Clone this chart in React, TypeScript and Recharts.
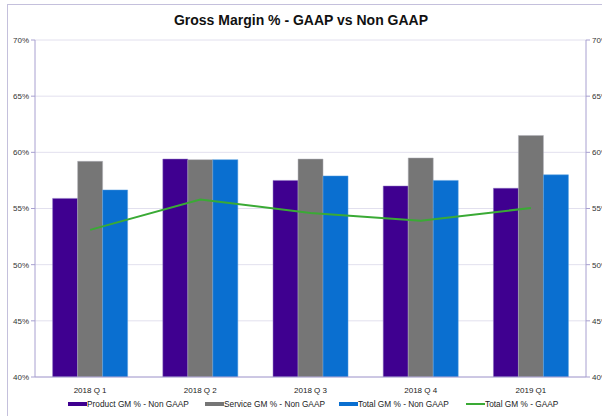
import React from 'react';
import { ComposedChart, Bar, Line, XAxis, YAxis, CartesianGrid, Legend } from 'recharts';

const categories = ['2018 Q 1', '2018 Q 2', '2018 Q 3', '2018 Q 4', '2019 Q1'];
const productNonGaap = [55.9, 59.4, 57.5, 57.0, 56.8];
const serviceNonGaap = [59.2, 59.35, 59.4, 59.5, 61.5];
const totalNonGaap = [56.65, 59.35, 57.9, 57.5, 58.0];
const totalGaap = [53.1, 55.8, 54.6, 53.9, 55.05];
const yTicks = [40, 45, 50, 55, 60, 65, 70];
const edgeTicks = [0, 1, 2, 3, 4, 5];
const seriesNames = ['Product GM % - Non GAAP', 'Service GM % - Non GAAP', 'Total GM % - Non GAAP', 'Total GM % - GAAP'];
const seriesColors = ['#3f0090', '#767676', '#0a6fd0', '#3aaa35'];

const data = categories.map((c, i) => ({
  name: c,
  product: productNonGaap[i],
  service: serviceNonGaap[i],
  total: totalNonGaap[i],
  gaap: totalGaap[i],
}));

const font = '"Liberation Sans", Arial, sans-serif';
const legendLefts = [68, 205, 339, 466];

const LegendContent = () => (
  <div style={{ position: 'relative', height: 12, width: 602, fontFamily: font, fontSize: 8.3, color: '#222' }}>
    {seriesNames.map((n, i) => (
      <div key={n} style={{ position: 'absolute', left: legendLefts[i], top: 0, display: 'flex', alignItems: 'center', whiteSpace: 'nowrap' }}>
        <span style={{ display: 'inline-block', width: 19, height: i === 3 ? 2 : 4, background: seriesColors[i] }} />
        <span>{n}</span>
      </div>
    ))}
  </div>
);

export default function App() {
  return (
    <div style={{ position: 'absolute', left: 0, top: 0, width: 602, height: 416, background: '#fff', overflow: 'hidden' }}>
      <div style={{ position: 'absolute', left: 7, top: 4, width: 610, height: 420, border: '1.5px solid #c4c0dc', boxSizing: 'border-box' }} />
      <div style={{ position: 'absolute', top: 12, left: 0, width: 602, textAlign: 'center', fontFamily: font, fontWeight: 'bold', fontSize: 14, color: '#111' }}>
        Gross Margin % - GAAP vs Non GAAP
      </div>
      <ComposedChart width={602} height={416} data={data} margin={{ top: 40, right: 0, left: 0, bottom: 9 }} barGap={0} barCategoryGap="16%">
        <CartesianGrid vertical={false} stroke="#e2e0ee" strokeWidth={1} yAxisId="l" />
        <XAxis dataKey="name" axisLine={{ stroke: '#a8a0d0' }} tickLine={false} tick={{ fontSize: 8, fill: '#222', fontFamily: font }} height={18} tickMargin={4} />
        <XAxis xAxisId="edge" type="number" domain={[0, 5]} ticks={edgeTicks} tick={false} axisLine={false} tickLine={{ stroke: '#a8a0d0' }} tickSize={4} height={0} />
        <YAxis yAxisId="l" orientation="left" type="number" domain={[40, 70]} ticks={yTicks} width={35} tickFormatter={(v: number) => `${v}%`} axisLine={{ stroke: '#a8a0d0' }} tickLine={{ stroke: '#a8a0d0' }} tickSize={4} tick={{ fontSize: 8, fill: '#333', fontFamily: font }} interval={0} allowDataOverflow />
        <YAxis yAxisId="r" orientation="right" type="number" domain={[40, 70]} ticks={yTicks} width={16} tickFormatter={(v: number) => `${v}%`} axisLine={{ stroke: '#a8a0d0' }} tickLine={{ stroke: '#a8a0d0' }} tickSize={4} tick={{ fontSize: 8, fill: '#333', fontFamily: font }} interval={0} allowDataOverflow />
        <Legend verticalAlign="bottom" content={<LegendContent />} wrapperStyle={{ bottom: 5, left: 0 }} />
        <Bar yAxisId="l" dataKey="product" name={seriesNames[0]} fill={seriesColors[0]} stroke="#8a70c0" strokeWidth={0.5} isAnimationActive={false} />
        <Bar yAxisId="l" dataKey="service" name={seriesNames[1]} fill={seriesColors[1]} stroke="#b0b0b8" strokeWidth={0.5} isAnimationActive={false} />
        <Bar yAxisId="l" dataKey="total" name={seriesNames[2]} fill={seriesColors[2]} stroke="#5aa0e0" strokeWidth={0.5} isAnimationActive={false} />
        <Line yAxisId="r" dataKey="gaap" name={seriesNames[3]} stroke={seriesColors[3]} strokeWidth={2} dot={false} isAnimationActive={false} />
      </ComposedChart>
    </div>
  );
}
